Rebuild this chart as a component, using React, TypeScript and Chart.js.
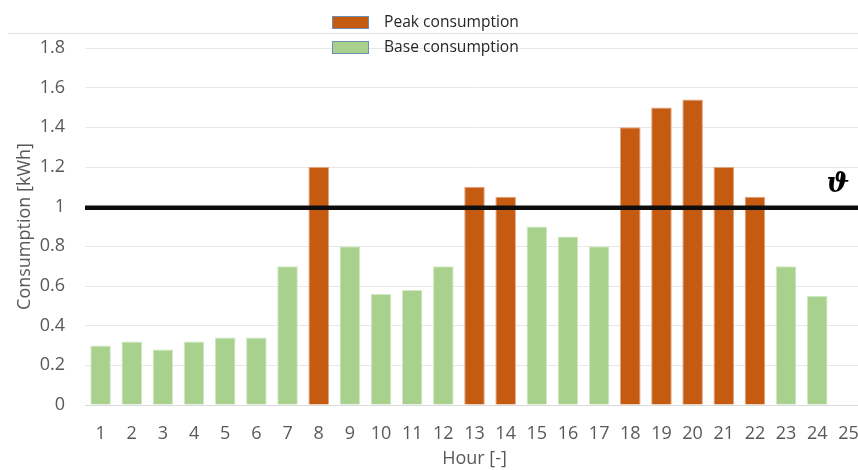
import React, { useEffect, useRef } from "react";
import { Chart, registerables } from "chart.js";

Chart.register(...registerables);

const HOURS = ["1","2","3","4","5","6","7","8","9","10","11","12","13","14","15","16","17","18","19","20","21","22","23","24","25"];
const PEAK_LABEL = "Peak consumption";
const BASE_LABEL = "Base consumption";
const PEAK = [null,null,null,null,null,null,null,1.2,null,null,null,null,1.1,1.05,null,null,null,1.4,1.5,1.54,1.2,1.05,null,null,null];
const BASE = [0.3,0.32,0.28,0.32,0.34,0.34,0.7,null,0.8,0.56,0.58,0.7,null,null,0.9,0.85,0.8,null,null,null,null,null,0.7,0.55,null];
const THRESHOLD = 1;
const THRESHOLD_LABEL = "ϑ";
const Y_MIN = 0;
const Y_MAX = 1.8;
const Y_STEP = 0.2;
const X_TITLE = "Hour [-]";
const Y_TITLE = "Consumption [kWh]";

const PEAK_COLOR = "#C55A11";
const BASE_COLOR = "#A9D18E";
const FONT = "'Open Sans', sans-serif";

const decorPlugin = {
  id: "decor",
  beforeDraw(chart: any) {
    const ctx = chart.ctx;
    ctx.save();
    ctx.strokeStyle = "#e3e3e3";
    ctx.lineWidth = 1;
    ctx.beginPath();
    ctx.moveTo(8, 33.5);
    ctx.lineTo(chart.width, 33.5);
    ctx.stroke();
    ctx.restore();
  },
  afterDatasetsDraw(chart: any) {
    const ctx = chart.ctx;
    const { left, right } = chart.chartArea;
    const y = chart.scales.y.getPixelForValue(THRESHOLD);
    ctx.save();
    ctx.strokeStyle = "#0d0d0d";
    ctx.lineWidth = 4.5;
    ctx.beginPath();
    ctx.moveTo(left, y + 1);
    ctx.lineTo(right, y + 1);
    ctx.stroke();
    ctx.fillStyle = "#000";
    ctx.font = "italic bold 27px 'DejaVu Serif', serif";
    ctx.textAlign = "center";
    ctx.textBaseline = "middle";
    ctx.fillText(THRESHOLD_LABEL, 838, y - 22);
    ctx.restore();
  },
  afterDraw(chart: any) {
    const ctx = chart.ctx;
    const items = chart.data.datasets.map((d: any) => ({ label: d.label, color: d.backgroundColor }));
    ctx.save();
    items.forEach((it: any, i: number) => {
      const by = 16 + i * 25;
      ctx.fillStyle = it.color;
      ctx.fillRect(332, by, 37, 13);
      ctx.strokeStyle = "#6f8db3";
      ctx.lineWidth = 1;
      ctx.strokeRect(332.5, by + 0.5, 36, 12);
      ctx.fillStyle = "#262626";
      ctx.font = "15.6px " + FONT;
      ctx.textAlign = "left";
      ctx.textBaseline = "middle";
      ctx.fillText(it.label, 384, by + 6.5);
    });
    ctx.restore();
  },
};

export default function App() {
  const ref = useRef<HTMLCanvasElement | null>(null);

  useEffect(() => {
    document.documentElement.style.overflow = "hidden";
    document.body.style.overflow = "hidden";
    const canvas = ref.current;
    if (!canvas) return;
    const chart = new Chart(canvas, {
      type: "bar",
      data: {
        labels: HOURS,
        datasets: [
          {
            label: PEAK_LABEL,
            data: PEAK,
            backgroundColor: PEAK_COLOR,
            borderColor: "#e2a27c",
            borderWidth: 1,
            grouped: false,
            categoryPercentage: 1,
            barPercentage: 0.66,
          } as any,
          {
            label: BASE_LABEL,
            data: BASE,
            backgroundColor: BASE_COLOR,
            borderColor: "#d2e8c4",
            borderWidth: 1,
            grouped: false,
            categoryPercentage: 1,
            barPercentage: 0.66,
          } as any,
        ],
      },
      options: {
        animation: false,
        responsive: false,
        maintainAspectRatio: false,
        layout: { padding: { top: 48, right: 2, bottom: 0, left: 0 } },
        plugins: {
          legend: { display: false },
          tooltip: { enabled: false },
        },
        scales: {
          x: {
            grid: { display: false, drawTicks: false },
            border: { display: true, color: "#d9d9d9", width: 1 },
            ticks: {
              color: "#595959",
              font: { family: FONT, size: 18 },
              padding: 18,
              maxRotation: 0,
              autoSkip: false,
            },
            title: {
              display: true,
              text: X_TITLE,
              color: "#595959",
              font: { family: FONT, size: 18 },
              padding: { top: 0, bottom: 0 },
            },
            afterFit: (s: any) => {
              s.height = 65;
              s.paddingLeft = 0;
              s.paddingRight = 0;
            },
          },
          y: {
            min: Y_MIN,
            max: Y_MAX,
            grid: { color: "#e8e8e8", lineWidth: 1, drawTicks: false },
            border: { display: false },
            ticks: {
              stepSize: Y_STEP,
              color: "#595959",
              font: { family: FONT, size: 18 },
              padding: 20,
              callback: (v: any) => String(Number(Number(v).toFixed(1))),
            },
            title: {
              display: true,
              text: Y_TITLE,
              color: "#595959",
              font: { family: FONT, size: 18 },
              padding: { top: 14, bottom: 0 },
            },
            afterFit: (s: any) => { s.width = 85; },
          },
        },
      },
      plugins: [decorPlugin],
    });
    return () => chart.destroy();
  }, []);

  return (
    <div style={{ position: "fixed", left: 0, top: 0, width: 866, height: 470, background: "#fff" }}>
      <canvas ref={ref} width={866} height={470} style={{ display: "block", width: 866, height: 470 }} />
    </div>
  );
}
